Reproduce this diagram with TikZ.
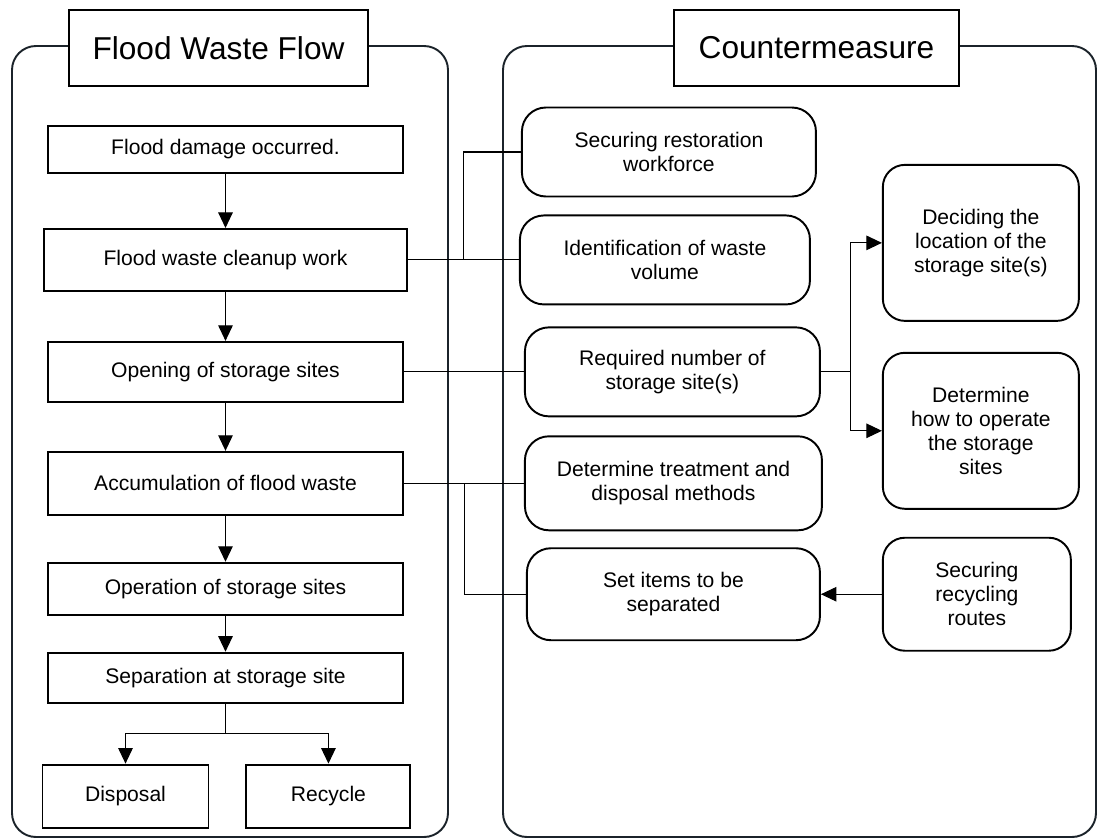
\documentclass[tikz,border=0pt]{standalone}
\usepackage{fontspec}
\setmainfont{Liberation Sans}
\usetikzlibrary{arrows.meta, positioning}

\definecolor{panelline}{RGB}{27,35,42}

\begin{document}
\begin{tikzpicture}[
    node distance=1cm and 2.4cm,
    panel/.style={rectangle, draw=panelline, line width=1.1pt, rounded corners=0.48cm, minimum width=8.72cm, minimum height=15.82cm},
    heading/.style={rectangle, draw, line width=1.1pt, fill=white, minimum height=1.52cm, font=\fontsize{18}{21}\selectfont},
    flow/.style={rectangle, draw, line width=1.1pt, fill=white, minimum width=7.1cm, minimum height=1.2cm, align=center, font=\fontsize{12}{13.7}\selectfont},
    measure/.style={flow, rounded corners=0.48cm, minimum width=5.9cm, minimum height=1.78cm},
    sidemeasure/.style={measure, rounded corners=0.44cm, minimum width=3.92cm, minimum height=3.12cm},
    arrow/.style={-{Triangle[length=0.31cm, width=0.29cm]}, line width=0.6pt},
    link/.style={line width=0.6pt}
]

\useasboundingbox (0,0) rectangle (21.96,-16.8);

% Panels
\node[panel] (flowpanel) at (4.6,-8.83) {};
\node[panel, minimum width=11.86cm] (measurepanel) at (15.99,-8.83) {};

% Headings
\node[heading, minimum width=5.98cm] (flowtitle) at (4.37,-0.96) {Flood Waste Flow};
\node[heading, minimum width=5.7cm] (measuretitle) at (16.33,-0.96) {Countermeasure};

% Flood waste flow
\node[flow, minimum height=0.94cm] (damage) at (4.51,-2.99) {Flood damage occurred.};
\node[flow, minimum width=7.26cm, minimum height=1.24cm, below=1.08cm of damage] (cleanup) {Flood waste cleanup work};
\node[flow, below=0.98cm of cleanup] (opening) {Opening of storage sites};
\node[flow, minimum height=1.26cm, below=0.96cm of opening] (accumulate) {Accumulation of flood waste};
\node[flow, minimum height=1.04cm, below=0.92cm of accumulate] (operation) {Operation of storage sites};
\node[flow, minimum height=1cm, below=0.72cm of operation] (separation) {Separation at storage site};

% Disposal / Recycle
\node[flow, minimum width=3.32cm, minimum height=1.26cm, below=1.2cm of separation, xshift=-2cm] (disposal) {Disposal};
\node[flow, minimum width=3.28cm, minimum height=1.26cm, right=0.72cm of disposal] (recycle) {Recycle};

% Countermeasures
\node[measure, minimum width=5.8cm, right=2.22cm of cleanup] (volume) {Identification of waste\\volume};
\node[measure, minimum width=5.88cm, above=0.34cm of volume, xshift=0.08cm] (workforce) {Securing restoration\\workforce};
\node[measure, right=2.4cm of opening] (sitecount) {Required number of\\storage site(s)};
\node[measure, minimum width=5.94cm, minimum height=1.88cm, right=2.4cm of accumulate] (treatment) {Determine treatment and\\disposal methods};
\node[measure, minimum width=5.86cm, minimum height=1.84cm, below=0.32cm of treatment] (separate) {Set items to be\\separated};

% Storage site decisions
\node[sidemeasure, right=1.22cm of sitecount, yshift=2.58cm] (location) {Deciding the\\location of the\\storage site(s)};
\node[sidemeasure, below=0.6cm of location] (operate) {Determine\\how to operate\\the storage\\sites};
\node[sidemeasure, minimum width=3.76cm, minimum height=2.26cm, right=1.22cm of separate] (routes) {Securing\\recycling\\routes};

% Split points
\coordinate (cleanupsplit) at ([xshift=1.12cm]cleanup.east);
\coordinate (accsplit) at ([xshift=1.22cm]accumulate.east);
\coordinate (sitesplit) at ([xshift=0.6cm]sitecount.east);
\coordinate (fork) at ([yshift=-0.6cm]separation.south);

% Arrows
\draw[arrow] (damage) -- (cleanup);
\draw[arrow] (cleanup) -- (opening);
\draw[arrow] (opening) -- (accumulate);
\draw[arrow] (accumulate) -- (operation);
\draw[arrow] (operation) -- (separation);
\draw[link] (separation) -- (fork);
\draw[arrow] (fork) -| (disposal);
\draw[arrow] (fork) -| (recycle);

% Links to countermeasures
\draw[link] (cleanup) -- (volume);
\draw[link] (cleanupsplit) |- (workforce);
\draw[link] (opening) -- (sitecount);
\draw[link] (accumulate) -- (treatment);
\draw[link] (accsplit) |- (separate);
\draw[link] (sitecount) -- (sitesplit);
\draw[arrow] (sitesplit) |- (location);
\draw[arrow] (sitesplit) |- (operate);
\draw[arrow] (routes) -- (separate);

\end{tikzpicture}
\end{document}
